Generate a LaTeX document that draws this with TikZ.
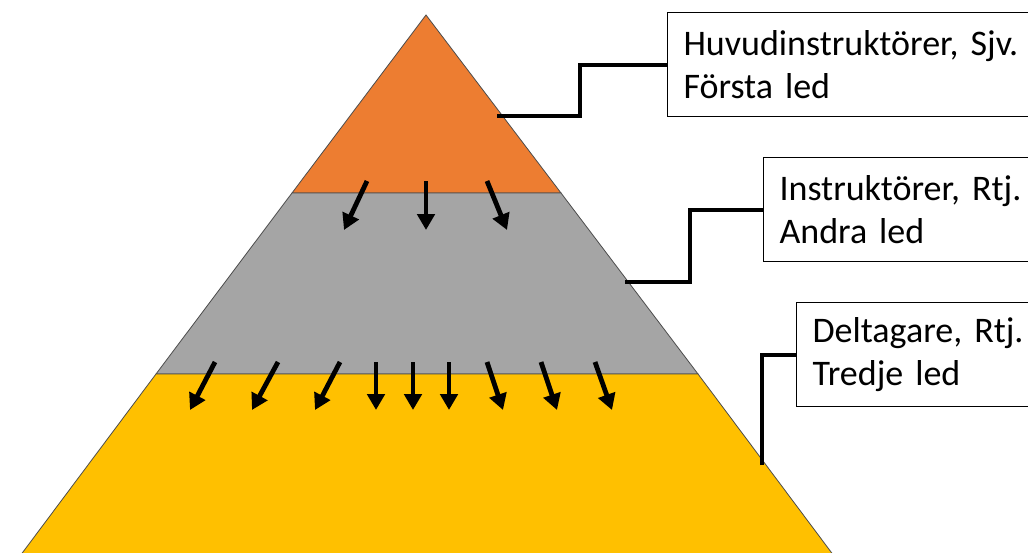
\documentclass[tikz,border=0pt]{standalone}
\usepackage{fontspec}
\setmainfont{Carlito}
\usepackage{tikz}
\usetikzlibrary{arrows.meta}
\definecolor{topband}{HTML}{ED7D31}
\definecolor{midband}{HTML}{A5A5A5}
\definecolor{lowband}{HTML}{FFC000}
\newcommand\tagfont{\fontsize{27}{32.5}\selectfont\spaceskip=3.5pt\relax}

\begin{document}
\begin{tikzpicture}[x=0.75pt,y=-0.75pt,
	flow/.style={line width=3.6pt,-{Triangle[length=12pt,width=13pt]}},
	link/.style={line width=3pt},
	tag/.style={draw,line width=0.8pt,anchor=north west,align=left,text width=290pt,inner xsep=12pt,minimum height=78pt,font=\tagfont}]
	\useasboundingbox (0,0) rectangle (1028,553);
	\clip (0,0) rectangle (1028,553);
	% pyramid bands
	\draw[fill=topband,draw=black!70,line width=0.6pt] (426,15) -- (292,193) -- (561,193) -- cycle;
	\draw[fill=midband,draw=black!70,line width=0.6pt] (292,193) -- (156,374) -- (698,374) -- (561,193) -- cycle;
	\draw[fill=lowband,draw=black!70,line width=0.6pt] (156,374) -- (17,560) -- (837,560) -- (698,374) -- cycle;
	% arrows between levels
	\foreach \xa/\xb in {367/344,426/426,487/507}{
		\draw[flow] (\xa,181) -- (\xb,230);
	}
	\foreach \xa/\xb in {215/190,278/252,340/315,376/376,413/413,449/449,487/503,541/557,595/612}{
		\draw[flow] (\xa,362) -- (\xb,410);
	}
	% labels
	\node[tag] (first) at (667,12) {Huvudinstruktörer, Sjv.\\Första led};
	\node[tag] (second) at (763,157) {Instruktörer, Rtj.\\Andra led};
	\node[tag] (third) at (796,302) {Deltagare, Rtj.\\Tredje led};
	\coordinate (firstend) at (497,116);
	\coordinate (secondend) at (625,282);
	\coordinate (thirdend) at (762,465);
	\draw[link] (firstend) -- (580,116) |- (first.west);
	\draw[link] (secondend) -- (690,282) |- (second.west);
	\draw[link] (thirdend) |- (third.west);
\end{tikzpicture}
\end{document}
